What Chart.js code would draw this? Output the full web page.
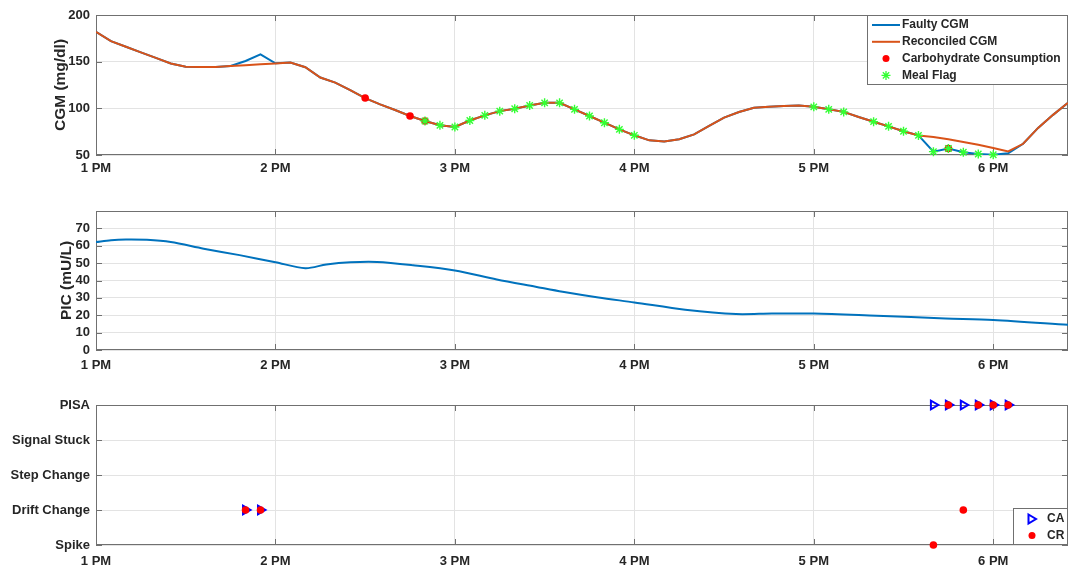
<!DOCTYPE html>
<html>
<head>
<meta charset="utf-8">
<script src="https://cdn.jsdelivr.net/npm/chart.js@4.4.1/dist/chart.umd.min.js"></script>
<style>
  html, body { margin: 0; padding: 0; background: #fff; }
  #page { position: relative; width: 1073px; height: 574px; overflow: hidden; }
  .panel { position: absolute; left: 0; width: 1073px; }
</style>
</head>
<body>
<div id="page">
  <div class="panel" style="top:0;height:180px"><canvas id="cgmChart"></canvas></div>
  <div class="panel" style="top:190px;height:185px"><canvas id="picChart"></canvas></div>
  <div class="panel" style="top:380px;height:194px"><canvas id="faultChart"></canvas></div>
</div>
<script>
// time axis is minutes after 1 PM
const hourLabels = ['1 PM', '2 PM', '3 PM', '4 PM', '5 PM', '6 PM'];

// CGM readings every 5 minutes
const cgmMinutes = [0, 5, 10, 15, 20, 25, 30, 35, 40, 45, 50, 55, 60, 65, 70, 75, 80, 85, 90, 95,
  100, 105, 110, 115, 120, 125, 130, 135, 140, 145, 150, 155, 160, 165, 170, 175, 180, 185, 190, 195,
  200, 205, 210, 215, 220, 225, 230, 235, 240, 245, 250, 255, 260, 265, 270, 275, 280, 285, 290, 295,
  300, 305, 310, 315, 320, 325];
const reconciledCgm = [182, 172, 166, 160, 154, 148, 144.5, 144.3, 144.4, 145.3, 146.2, 147.1, 148, 149, 144, 133, 127.5, 119.5, 111, 104.3,
  98.2, 91.8, 86.4, 81.8, 80, 87, 92.5, 97, 99.6, 103, 105.9, 105.9, 98.9, 91.8, 84.6, 77.5, 71.1, 65.7, 64.6, 66.8,
  72.1, 81.1, 90, 96.1, 100.7, 101.8, 102.6, 103, 101.6, 98.9, 96.2, 90.7, 85.7, 80.7, 75.5, 71, 69.3, 66.8, 64, 61,
  57.5, 53.8, 62, 79, 93, 106];
const faultyCgm = [182, 172, 166, 160, 154, 148, 144.5, 144.3, 144.4, 145.4, 150.7, 157.9, 148.2, 149, 144, 133, 127.5, 119.5, 111, 104.3,
  98.2, 91.8, 86.4, 81.8, 80, 87, 92.5, 97, 99.6, 103, 105.9, 105.9, 98.9, 91.8, 84.6, 77.5, 71.1, 65.7, 64.6, 66.8,
  72.1, 81.1, 90, 96.1, 100.7, 101.8, 102.6, 103, 101.6, 98.9, 96.2, 90.7, 85.7, 80.7, 75.5, 71, 53.6, 57, 52.9, 51.1,
  50.3, 51.8, 62, 79, 93, 106];

const carbMinutes = [90, 105, 110, 285];
const carbCgm = [111, 91.8, 86.4, 57];

const mealMinutes = [110, 115, 120, 125, 130, 135, 140, 145, 150, 155, 160, 165, 170, 175, 180,
  240, 245, 250, 260, 265, 270, 275, 280, 285, 290, 295, 300];
const mealCgm = [86.4, 81.8, 80, 87, 92.5, 97, 99.6, 103, 105.9, 105.9, 98.9, 91.8, 84.6, 77.5, 71.1,
  101.6, 98.9, 96.2, 85.7, 80.7, 75.5, 71, 53.6, 57, 52.9, 51.1, 50.3];

// plasma insulin concentration
const picMinutes = [0, 5, 10, 17, 25, 36, 48, 60, 70, 77, 85, 94, 106, 120, 134, 147, 156, 168, 180, 197, 214, 226, 240, 261, 284, 300, 325];
const picValues = [62.1, 63.2, 63.6, 63.4, 62.1, 58.3, 54.6, 50.5, 47.1, 49.2, 50.5, 50.7, 48.8, 45.8, 40.6, 36.4, 33.5, 30.2, 27.4, 23.2, 20.7, 21.0, 21.0, 19.7, 18.2, 17.3, 14.5];

// fault classes, bottom to top
const faultTypes = ['Spike', 'Drift Change', 'Step Change', 'Signal Stuck', 'PISA'];
const caMinutes = [50, 55, 280, 285, 290, 295, 300, 305];
const caFault = ['Drift Change', 'Drift Change', 'PISA', 'PISA', 'PISA', 'PISA', 'PISA', 'PISA'];
const crMinutes = [50, 55, 280, 285, 290, 295, 300, 305];
const crFault = ['Drift Change', 'Drift Change', 'Spike', 'PISA', 'Drift Change', 'PISA', 'PISA', 'PISA'];

const BLUE = '#0072BD', ORANGE = '#D95319', RED = '#ff0000', GREEN = '#33ff33', MARK_BLUE = '#0000ff';
const gridColor = '#e3e3e3', frameColor = '#707070', textColor = '#262626';
const FONT = '"Liberation Sans", Arial, Helvetica, sans-serif';

Chart.defaults.font.family = FONT;
Chart.defaults.font.size = 13;
Chart.defaults.font.weight = 'bold';
Chart.defaults.color = textColor;
Chart.defaults.animation = false;

const pts = (xs, ys) => xs.map((x, i) => ({ x, y: ys[i] }));

// MATLAB-like box with inward ticks on all four sides
const frame = {
  id: 'frame',
  beforeDatasetsDraw(chart) {
    const { ctx, chartArea: a, scales: { x, y } } = chart;
    ctx.save();
    ctx.strokeStyle = frameColor;
    ctx.lineWidth = 1;
    ctx.strokeRect(a.left + 0.5, a.top + 0.5, a.width - 1, a.height - 1);
    ctx.beginPath();
    x.ticks.forEach(t => {
      const px = Math.round(x.getPixelForValue(t.value)) + 0.5;
      ctx.moveTo(px, a.top); ctx.lineTo(px, a.top + 6);
      ctx.moveTo(px, a.bottom); ctx.lineTo(px, a.bottom - 6);
    });
    y.ticks.forEach(t => {
      const py = Math.round(y.getPixelForValue(t.value)) + 0.5;
      ctx.moveTo(a.left, py); ctx.lineTo(a.left + 6, py);
      ctx.moveTo(a.right, py); ctx.lineTo(a.right - 6, py);
    });
    ctx.stroke();
    ctx.restore();
  }
};

function drawSymbol(ctx, kind, color, x, y) {
  ctx.save();
  ctx.strokeStyle = color;
  ctx.fillStyle = color;
  ctx.beginPath();
  if (kind === 'line') {
    ctx.lineWidth = 2;
    ctx.moveTo(x - 14, y); ctx.lineTo(x + 14, y);
    ctx.stroke();
  } else if (kind === 'dot') {
    ctx.arc(x, y, 3.5, 0, Math.PI * 2);
    ctx.fill();
  } else if (kind === 'star') {
    const r = 4.5, d = r * Math.SQRT1_2;
    ctx.lineWidth = 1.3;
    ctx.moveTo(x - r, y); ctx.lineTo(x + r, y);
    ctx.moveTo(x, y - r); ctx.lineTo(x, y + r);
    ctx.moveTo(x - d, y - d); ctx.lineTo(x + d, y + d);
    ctx.moveTo(x - d, y + d); ctx.lineTo(x + d, y - d);
    ctx.stroke();
  } else if (kind === 'triangle') {
    ctx.lineWidth = 2;
    ctx.moveTo(x - 3.5, y - 4.5); ctx.lineTo(x + 4, y); ctx.lineTo(x - 3.5, y + 4.5);
    ctx.closePath();
    ctx.stroke();
  }
  ctx.restore();
}

// legend boxed inside the plot area, like MATLAB
const insetLegend = {
  id: 'insetLegend',
  afterDraw(chart, args, opts) {
    if (!opts || !opts.items) return;
    const { ctx, chartArea: a } = chart;
    const left = a.right - opts.width;
    const top = opts.corner === 'top' ? a.top : a.bottom - opts.height;
    ctx.save();
    ctx.fillStyle = '#fff';
    ctx.fillRect(left, top, opts.width, opts.height);
    ctx.strokeStyle = frameColor;
    ctx.lineWidth = 1;
    ctx.strokeRect(left + 0.5, top + 0.5, opts.width - 1, opts.height - 1);
    ctx.font = 'bold 12px ' + FONT;
    ctx.textBaseline = 'middle';
    opts.items.forEach((it, i) => {
      const y = top + opts.firstRow + i * opts.rowGap;
      drawSymbol(ctx, it.symbol, it.color, left + opts.symbolX, y);
      ctx.fillStyle = textColor;
      ctx.fillText(it.text, left + opts.textX, y);
    });
    ctx.restore();
  }
};

Chart.register(frame, insetLegend);

function timeAxis(height, pad) {
  return {
    type: 'linear',
    min: 0,
    max: 325,
    ticks: { stepSize: 60, padding: pad, maxRotation: 0, autoSkip: false, callback: v => hourLabels[v / 60] },
    afterBuildTicks: s => { s.ticks = s.ticks.filter(t => t.value % 60 === 0); },
    afterFit: s => { s.height = height; s.paddingLeft = 0; s.paddingRight = 0; },
    grid: { color: gridColor, drawTicks: false },
    border: { display: false }
  };
}

function valueAxis(min, max, step, title, titleX) {
  const axis = {
    min, max,
    ticks: { stepSize: step, padding: 6, autoSkip: false },
    afterFit: s => { s.width = 96; },
    grid: { color: gridColor, drawTicks: false },
    border: { display: false }
  };
  if (title) {
    axis.title = { display: true, text: title, font: { size: 15.5, weight: 'bold' }, padding: { top: titleX - 9, bottom: 0 } };
  }
  return axis;
}

const baseOptions = (padTop) => ({
  responsive: true,
  maintainAspectRatio: false,
  events: [],
  layout: { autoPadding: false, padding: { top: padTop, right: 5, left: 0, bottom: 0 } },
  plugins: { legend: { display: false }, tooltip: { enabled: false } }
});

// --- CGM panel ---
const cgmOpts = baseOptions(15);
cgmOpts.scales = { x: timeAxis(25, 6), y: valueAxis(50, 200, 50, 'CGM (mg/dl)', 60) };
cgmOpts.plugins.insetLegend = {
  corner: 'top', width: 201, height: 70, firstRow: 10, rowGap: 16.8, symbolX: 19, textX: 35,
  items: [
    { text: 'Faulty CGM', symbol: 'line', color: BLUE },
    { text: 'Reconciled CGM', symbol: 'line', color: ORANGE },
    { text: 'Carbohydrate Consumption', symbol: 'dot', color: RED },
    { text: 'Meal Flag', symbol: 'star', color: GREEN }
  ]
};

new Chart(document.getElementById('cgmChart'), {
  type: 'line',
  data: {
    datasets: [
      { label: 'Faulty CGM', data: pts(cgmMinutes, faultyCgm), borderColor: BLUE, borderWidth: 2, pointRadius: 0, tension: 0, order: 3 },
      { label: 'Reconciled CGM', data: pts(cgmMinutes, reconciledCgm), borderColor: ORANGE, borderWidth: 2, pointRadius: 0, tension: 0, order: 2 },
      { label: 'Carbohydrate Consumption', data: pts(carbMinutes, carbCgm), showLine: false, pointStyle: 'circle',
        pointRadius: 3.8, backgroundColor: RED, borderColor: RED, borderWidth: 0, clip: false, order: 1 },
      { label: 'Meal Flag', data: pts(mealMinutes, mealCgm), showLine: false, pointStyle: 'star',
        pointRadius: 4.5, borderColor: GREEN, borderWidth: 1.4, clip: false, order: 0 }
    ]
  },
  options: cgmOpts
});

// --- PIC panel ---
const picOpts = baseOptions(21);
const picY = valueAxis(0, 80, 10, 'PIC (mU/L)', 66);
picY.ticks.callback = v => (v === 80 ? '' : v);
picOpts.scales = { x: timeAxis(25, 8), y: picY };

new Chart(document.getElementById('picChart'), {
  type: 'line',
  data: {
    datasets: [
      { label: 'PIC', data: pts(picMinutes, picValues), borderColor: BLUE, borderWidth: 2, pointRadius: 0, tension: 0.3 }
    ]
  },
  options: picOpts
});

// --- fault classification panel ---
const faultIndex = list => list.map(f => faultTypes.indexOf(f) + 1);
const faultOpts = baseOptions(25);
const faultY = valueAxis(1, 5, 1, null, 0);
faultY.ticks.callback = v => faultTypes[v - 1];
faultOpts.scales = { x: timeAxis(29, 9), y: faultY };
faultOpts.plugins.insetLegend = {
  corner: 'bottom', width: 55, height: 37, firstRow: 11, rowGap: 16.5, symbolX: 19, textX: 34,
  items: [
    { text: 'CA', symbol: 'triangle', color: MARK_BLUE },
    { text: 'CR', symbol: 'dot', color: RED }
  ]
};

new Chart(document.getElementById('faultChart'), {
  type: 'line',
  data: {
    datasets: [
      { label: 'CA', data: pts(caMinutes, faultIndex(caFault)), showLine: false, pointStyle: 'triangle', rotation: 90,
        pointRadius: 5, borderColor: MARK_BLUE, borderWidth: 2, backgroundColor: 'rgba(0,0,0,0)', clip: false, order: 1 },
      { label: 'CR', data: pts(crMinutes, faultIndex(crFault)), showLine: false, pointStyle: 'circle',
        pointRadius: 3.8, backgroundColor: RED, borderColor: RED, borderWidth: 0, clip: false, order: 0 }
    ]
  },
  options: faultOpts
});
</script>
</body>
</html>
